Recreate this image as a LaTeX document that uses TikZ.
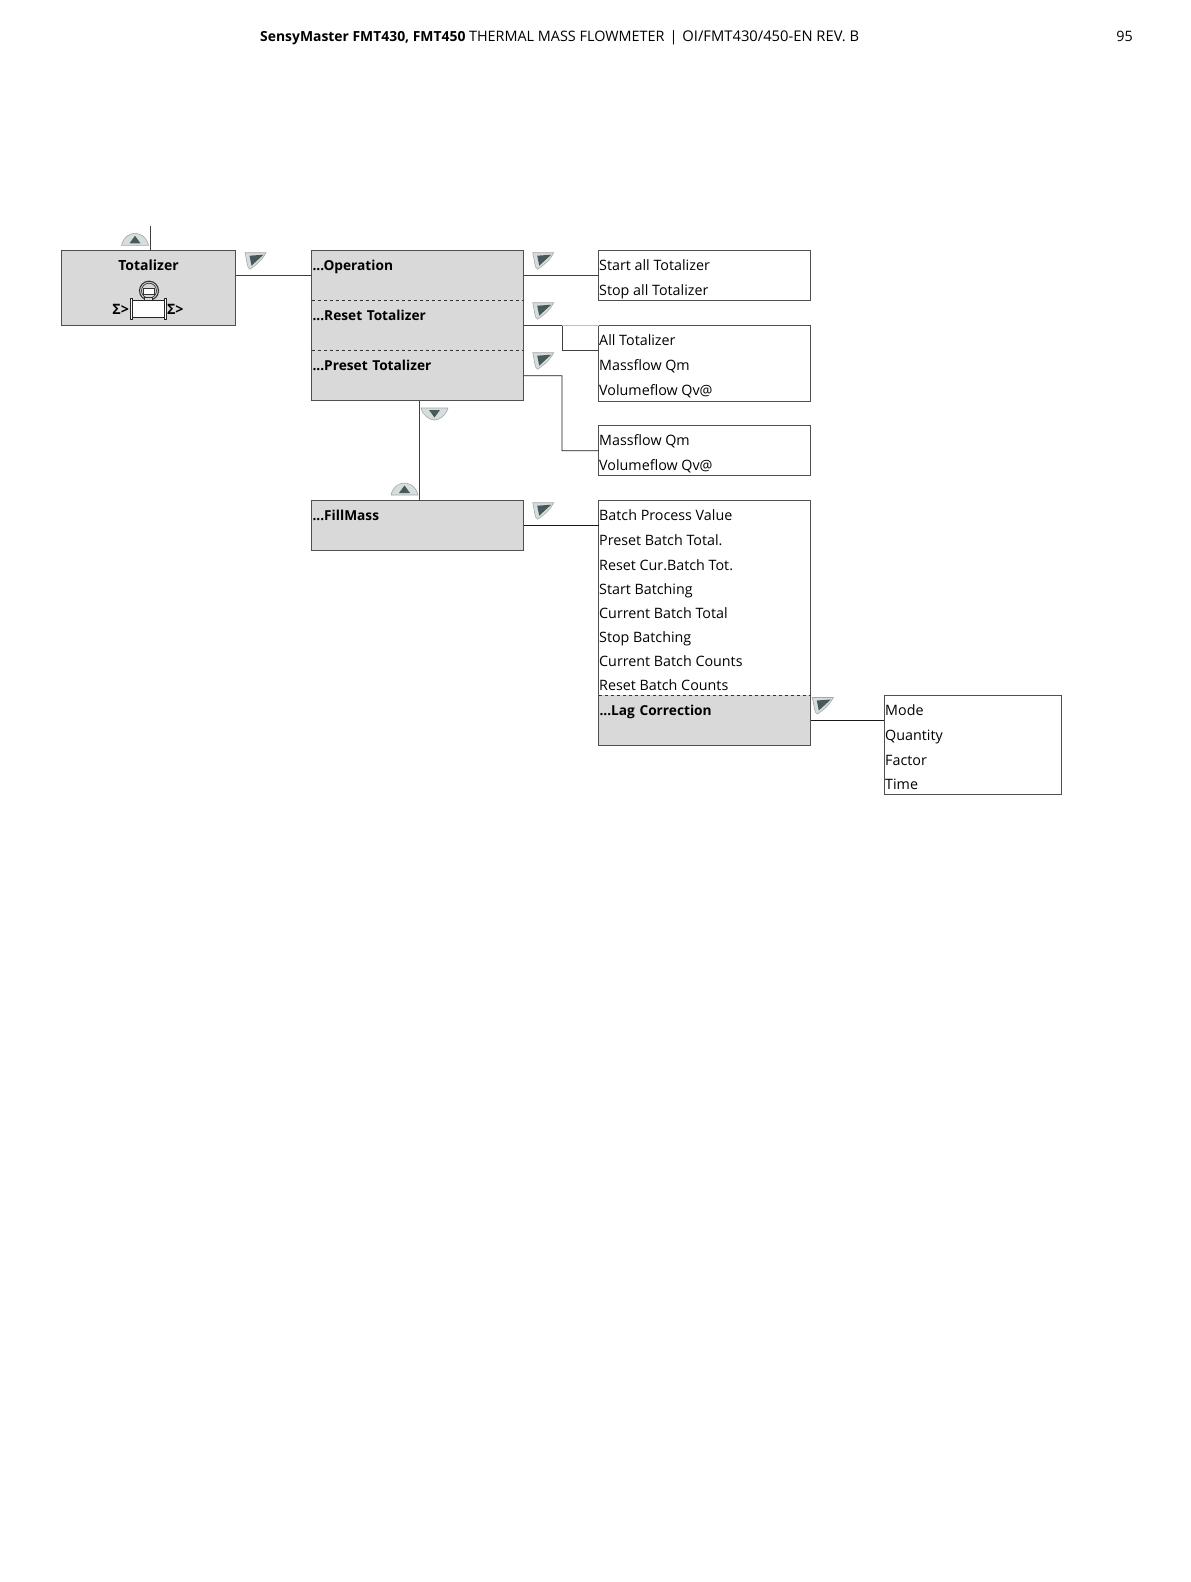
\documentclass[tikz,border=0pt]{standalone}
\usepackage{fontspec}
\setmainfont{Open Sans}
\usepackage{xcolor}
\usetikzlibrary{positioning}

\definecolor{panelgrey}{HTML}{D9D9D9}
\definecolor{edgegrey}{HTML}{505050}
\definecolor{keyfill}{HTML}{D5DEDC}
\definecolor{keydark}{HTML}{47595A}

\tikzset{
    keyright/.pic={
        \draw[draw=gray!70, fill=keyfill, line width=0.6pt] (0,0) -- (21,0) .. controls (17,8) and (10,13) .. (5,16.5) .. controls (2,16) and (2,8) .. (0,0) -- cycle;
        \fill[keydark] (4.5,3) -- (18.5,2) -- (6.5,13) -- cycle;
    },
    keyup/.pic={
        \draw[draw=gray!70, fill=keyfill, line width=0.6pt] (0,12) .. controls (2,3) and (9,0) .. (13.5,0) .. controls (18,0) and (25,3) .. (27,12) -- cycle;
        \fill[keydark] (13.5,2.5) -- (19,10) -- (8,10) -- cycle;
    },
    keydown/.pic={
        \draw[draw=gray!70, fill=keyfill, line width=0.6pt] (0,0) -- (27,0) .. controls (25,8) and (18,12) .. (13.5,12) .. controls (9,12) and (2,8) .. (0,0) -- cycle;
        \fill[keydark] (8,2) -- (19,2) -- (13.5,9.5) -- cycle;
    }
}

\begin{document}
\begin{tikzpicture}[
    x=1pt, y=-1pt,
    node distance=75pt,
    font=\fontsize{14.3}{16}\selectfont,
    panel/.style={rectangle, draw=edgegrey, fill=panelgrey, line width=1.1pt, outer sep=0pt, inner sep=0pt},
    section/.style={rectangle, fill=panelgrey, outer sep=0pt, inner xsep=1pt, inner ysep=2pt, text width=210pt, align=left, text height=18pt, text depth=28pt, font=\fontsize{13.7}{16}\selectfont\bfseries},
    listbox/.style={rectangle, draw=edgegrey, fill=white, line width=1pt, outer sep=0pt, inner sep=0pt, minimum width=212pt},
    entry/.style={inner sep=0pt, anchor=base west},
    link/.style={draw=black!75, line width=0.8pt},
    divider/.style={draw=black!80, line width=0.6pt, dashed}
]
\useasboundingbox (0,0) rectangle (1191,1582);

% page header
\node[inner sep=0pt, anchor=base west] (head) at (260,41) {{\fontsize{13.9}{16}\selectfont\textbf{SensyMaster FMT430, FMT450}} {\fontsize{14.4}{16}\selectfont THERMAL MASS FLOWMETER\hspace{5pt}|\hspace{5pt}}{\fontsize{14.75}{16}\selectfont OI/FMT430/450-EN REV. B}};
\node[inner sep=0pt, anchor=base east] (page) at (1133,41) {95};

% left column
\node[panel, minimum width=174pt, minimum height=75pt, anchor=north west] (total) at (61.5,250.7) {};
\node[inner sep=0pt, anchor=base] (totaltext) at (148.5,270.5) {\fontsize{14}{16}\selectfont\textbf{Totalizer}};
\coordinate (topend) at (150,226);
\draw[link] (topend) -- (topend |- total.north);

% flowmeter symbol
\node[circle, draw=black!80, line width=1.1pt, minimum size=19pt, inner sep=0pt] (head1) at (149,290.7) {};
\node[circle, draw=black!80, line width=0.7pt, minimum size=15pt, inner sep=0pt] (head2) at (149,290.7) {};
\node[rectangle, draw=black!80, fill=white, line width=0.7pt, minimum width=11pt, minimum height=6pt, inner sep=0pt] (display) at (148.7,291.2) {};
\node[rectangle, draw=black!80, fill=panelgrey, line width=0.7pt, minimum width=8pt, minimum height=4pt, inner sep=0pt] (neck) at (148.7,299.6) {};
\node[rectangle, draw=black!85, fill=white, line width=0.8pt, minimum width=32pt, minimum height=17.5pt, inner sep=0pt] (tube) at (148.5,308.8) {};
\node[rectangle, draw=black!85, fill=white, line width=0.8pt, minimum width=2.2pt, minimum height=21pt, inner sep=0pt] (flangeL) at (131.5,308.8) {};
\node[rectangle, draw=black!85, fill=white, line width=0.8pt, minimum width=2.2pt, minimum height=21pt, inner sep=0pt] (flangeR) at (165.5,308.8) {};
\node[inner sep=0pt, anchor=east] (sigmaL) at (129.3,309.3) {\fontsize{14.3}{16}\selectfont\textbf{Σ>}};
\node[inner sep=0pt, anchor=west] (sigmaR) at (166.8,309.3) {\fontsize{14.3}{16}\selectfont\textbf{Σ>}};

% second column
\node[section, right=76pt of total.north east, anchor=north west] (oper) {...Operation};
\node[section, below=0pt of oper.south west, anchor=north west] (reset) {...Reset Totalizer};
\node[section, below=0pt of reset.south west, anchor=north west] (preset) {...Preset Totalizer};
\draw[edgegrey, line width=1.1pt] (oper.north west) rectangle (preset.south east);
\draw[divider] (oper.south west) -- (oper.south east);
\draw[divider] (reset.south west) -- (reset.south east);

\node[section, below=100pt of preset.south west, anchor=north west] (fillmass) {...FillMass};
\draw[edgegrey, line width=1.1pt] (fillmass.north west) rectangle (fillmass.south east);

% list boxes
\node[listbox, minimum height=50pt, right=75pt of oper.north east, anchor=north west] (start) {};
\node[listbox, minimum height=75.3pt, anchor=north west] (all) at (start.north west |- reset.east) {};
\node[listbox, minimum height=50pt, below=24.7pt of all.south west, anchor=north west] (mass) {};
\node[listbox, minimum height=244.6pt, anchor=north west] (batch) at (start.west |- fillmass.north) {};
\node[section, anchor=south west] (lag) at (batch.south west) {...Lag Correction};
\draw[edgegrey, line width=1.1pt] (batch.north west) rectangle (batch.south east);
\draw[divider] (lag.north west) -- (lag.north east);
\node[rectangle, draw=edgegrey, fill=white, line width=1pt, outer sep=0pt, inner sep=0pt, minimum width=177.7pt, minimum height=99.4pt, anchor=north west] (mode) at (884,695.3) {};

% entries
\foreach \y/\txt [count=\i] in {270.5/Start all Totalizer, 295.5/Stop all Totalizer, 345.5/All Totalizer, 370.5/Massflow Qm, 395.5/Volumeflow Qv@, 445/Massflow Qm, 470/Volumeflow Qv@, 520.5/Batch Process Value, 545.5/Preset Batch Total., 570.5/Reset Cur.Batch Tot., 594.5/Start Batching, 618.5/Current Batch Total, 642.5/Stop Batching, 666.5/Current Batch Counts, 690.5/Reset Batch Counts}
    \node[entry] (item\i) at (599,\y) {\txt};
\foreach \y/\txt [count=\i] in {715.5/Mode, 740.5/Quantity, 765.5/Factor, 789.5/Time}
    \node[entry] (modeitem\i) at (885,\y) {\txt};

% connectors
\draw[link] (total.east |- oper.east) -- (oper.west);
\draw[link] (oper.east) -- (start.west);
\coordinate (bendA) at (562,350.3);
\coordinate (bendB) at (562,450.7);
\draw[link] (reset.east) -| (bendA) -- (all.west |- bendA);
\draw[black!25, line width=0.8pt] (bendA |- reset.east) -- (all.north west);
\draw[link, draw=black!90] (preset.east) -| (bendB) -- (mass.west);
\draw[link, draw=black!90] (fillmass.east) -- (batch.west |- fillmass.east);
\draw[link, draw=black!90] (lag.east) -- (mode.west |- lag.east);
\coordinate (stem) at (419.3,401);
\draw[link] (stem) -- (stem |- fillmass.north);

% keys
\path (532.7,252.7) pic {keyright};
\path (532.7,302.7) pic {keyright};
\path (532.7,352.7) pic {keyright};
\path (532.7,502.7) pic {keyright};
\path (245,252.7) pic {keyright};
\path (812.3,697.5) pic {keyright};
\path (121.5,233.3) pic {keyup};
\path (391,483) pic {keyup};
\path (421,408) pic {keydown};

\end{tikzpicture}
\end{document}
